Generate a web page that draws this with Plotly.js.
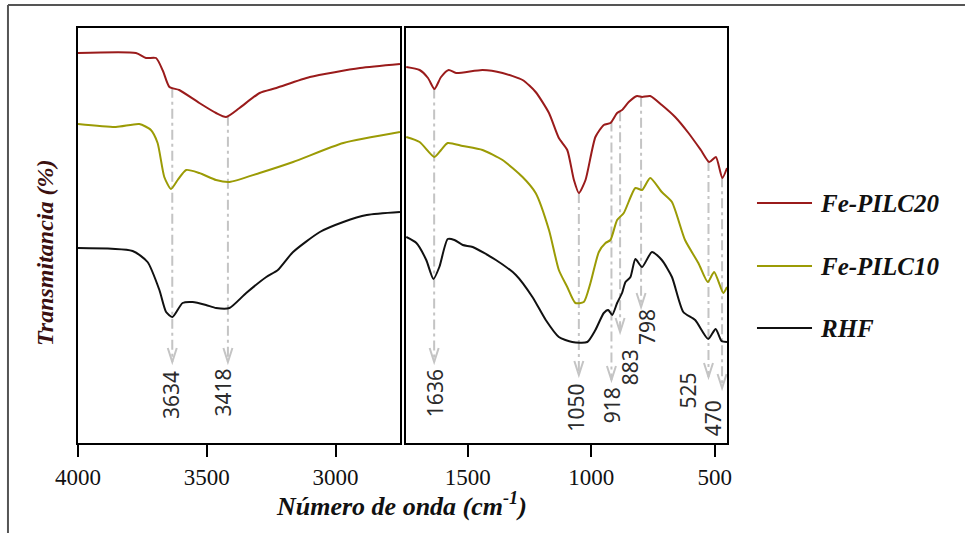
<!DOCTYPE html>
<html>
<head>
<meta charset="utf-8">
<script src="https://cdn.plot.ly/plotly-3.0.1.min.js"></script>
<style>html,body{margin:0;padding:0;background:#fff;}#chart{width:965px;height:533px;}</style>
</head>
<body>
<div id="chart"></div>
<script>
// ---------------- DATA ----------------
const seriesNames = ["Fe-PILC20", "Fe-PILC10", "RHF"];

// high-wavenumber panel (4000 - 2750 cm-1)
const pilc20_hi_wn = [4000,3775,3736,3697,3670,3645,3607,3529,3464,3425,3373,3295,3230,3100,2905,2750];
const pilc20_hi_T  = [390,390,385,385,372,356,353,340,330,326,335,350,355,366,375,379];
const pilc10_hi_wn = [4000,3853,3762,3717,3691,3665,3639,3613,3580,3529,3464,3412,3295,3165,2970,2750];
const pilc10_hi_T  = [319,316,319,313,300,266,254,263,273,270,263,261,270,281,300,311];
const rhf_hi_wn    = [4000,3788,3730,3684,3658,3633,3594,3555,3503,3464,3412,3347,3269,3224,3165,3061,2970,2879,2750];
const rhf_hi_T     = [195,192,181,153,131,126,140,141,138,135,135,150,166,173,191,211,221,228,231];

// low-wavenumber panel (1750 - 450 cm-1)
const pilc20_lo_wn = [1749,1695,1661,1635,1608,1577,1547,1440,1359,1278,1225,1171,1131,1097,1070,1050,1023,983,949,922,895,875,848,814,794,761,714,660,606,556,522,495,469,450];
const pilc20_lo_T  = [376,373,365,354,366,373,370,373,370,363,351,330,305,293,263,250,263,306,318,320,330,333,341,347,346,347,338,326,310,293,281,286,265,275];
const pilc10_lo_wn = [1749,1695,1635,1608,1581,1520,1440,1359,1278,1225,1171,1131,1097,1064,1030,1003,969,942,922,895,868,821,794,761,714,673,620,566,528,502,465,450];
const pilc10_lo_T  = [306,301,286,293,300,297,293,283,266,250,213,173,156,140,141,160,191,200,203,223,230,255,253,265,251,241,203,180,161,171,150,156];
const rhf_lo_wn    = [1749,1708,1668,1639,1615,1581,1554,1520,1480,1386,1305,1238,1184,1131,1077,1016,983,949,931,915,895,875,861,841,821,794,754,714,673,627,579,526,496,472,450];
const rhf_lo_T     = [206,200,183,164,176,204,203,198,196,183,168,146,123,106,101,101,113,130,133,128,140,150,161,166,184,176,191,183,166,131,123,104,114,102,101];

// marked bands (cm-1)
const peakBands  = [3634, 3418, 1636, 1050, 918, 883, 798, 525, 470];
const peakLabels = ["3634", "3418", "1636", "1050", "918", "883", "798", "525", "470"];
const xTickVals_hi = [4000, 3500, 3000];
const xTickVals_lo = [1500, 1000, 500];

// ---------------- LAYOUT CONFIG (positions / styles) ----------------
const colors = ["#9a1b1b", "#9b9b05", "#111111"];
const arrowTipY = [81, 81, 81, 68, 63, 111, 136, 66, 55];
const labelX    = [3639, 3439, 1632, 1063, 915, 842, 774, 606, 506];
const labelY    = [48, 50, 50, 35, 38, 76, 116, 53, 25];
const hiRange = [4000, 2750], loRange = [1750, 450], yRange = [0, 415];
const M = {l: 78, r: 238, t: 28, b: 90};
const plotW = 965 - M.l - M.r, plotH = 533 - M.t - M.b;
const domHi = [0, 0.4961], domLo = [0.5054, 1];
const serif = "Liberation Serif";
const gray = "#c4c4c4";

function interp(xs, ys, x) {
  for (let i = 0; i < xs.length - 1; i++) {
    const a = xs[i], b = xs[i + 1];
    if ((x <= a && x >= b) || (x >= a && x <= b)) {
      const t = (x - a) / (b - a);
      return ys[i] + t * (ys[i + 1] - ys[i]);
    }
  }
  return ys[ys.length - 1];
}

const hiSets = [[pilc20_hi_wn, pilc20_hi_T], [pilc10_hi_wn, pilc10_hi_T], [rhf_hi_wn, rhf_hi_T]];
const loSets = [[pilc20_lo_wn, pilc20_lo_T], [pilc10_lo_wn, pilc10_lo_T], [rhf_lo_wn, rhf_lo_T]];

const traces = [];
seriesNames.forEach((name, i) => {
  traces.push({x: hiSets[i][0], y: hiSets[i][1], xaxis: "x", yaxis: "y", type: "scatter", mode: "lines",
    name: name, showlegend: false, line: {color: colors[i], width: 2, shape: "spline", smoothing: 0.6}, hoverinfo: "skip"});
  traces.push({x: loSets[i][0], y: loSets[i][1], xaxis: "x2", yaxis: "y2", type: "scatter", mode: "lines",
    name: name, showlegend: false, line: {color: colors[i], width: 2, shape: "spline", smoothing: 0.6}, hoverinfo: "skip"});
});

const shapes = [];
const annotations = [];

peakBands.forEach((w, k) => {
  const isHi = w > 2000;
  const xr = isHi ? "x" : "x2", yr = isHi ? "y" : "y2";
  const rng = isHi ? hiRange : loRange, dom = isHi ? domHi : domLo;
  const ppu = (dom[1] - dom[0]) * plotW / Math.abs(rng[0] - rng[1]);
  const topSet = isHi ? hiSets[0] : loSets[0];
  const yTop = interp(topSet[0], topSet[1], w);
  const yTip = arrowTipY[k];
  const dx = 4.5 / ppu, h = 14 * (yRange[1] - yRange[0]) / plotH;
  shapes.push({type: "line", xref: xr, yref: yr, x0: w, x1: w, y0: yTop, y1: yTip,
    line: {color: gray, width: 2, dash: "10px,4px,3px,4px"}, layer: "below"});
  shapes.push({type: "path", xref: xr, yref: yr,
    path: `M ${w - dx} ${yTip + h} L ${w} ${yTip} L ${w + dx} ${yTip + h}`,
    line: {color: gray, width: 2}});
  annotations.push({xref: xr, yref: yr, x: labelX[k], y: labelY[k], text: peakLabels[k], showarrow: false,
    textangle: -90, xanchor: "center", yanchor: "middle",
    font: {family: "Noto Sans", size: 21, color: "#2b2b2b"}});
});

// legend (drawn by hand to match the reference spacing)
const legY = [0.5783, 0.4265, 0.2771];
seriesNames.forEach((name, i) => {
  shapes.push({type: "line", xref: "paper", yref: "paper", x0: 1.0462, x1: 1.131, y0: legY[i], y1: legY[i],
    line: {color: colors[i], width: 2}});
  annotations.push({xref: "paper", yref: "paper", x: 1.1402, y: legY[i], text: name, showarrow: false,
    xanchor: "left", yanchor: "middle",
    font: {family: serif, size: 25, color: "#111", weight: "bold", style: "italic"}});
});

// axis titles
annotations.push({xref: "paper", yref: "paper", x: 0.4977, y: -0.149, text: "Número de onda (cm<sup>-1</sup>)",
  showarrow: false, xanchor: "center", yanchor: "middle",
  font: {family: serif, size: 26, color: "#111", weight: "bold", style: "italic"}});
annotations.push({xref: "paper", yref: "paper", x: -0.0508, y: 0.458, text: "Transmitancia (%)",
  showarrow: false, textangle: -90, xanchor: "center", yanchor: "middle",
  font: {family: serif, size: 24, color: "#3b1010", weight: "bold", style: "italic"}});

// outer frame (top and left edges visible in the reference)
shapes.push({type: "line", xref: "paper", yref: "paper", x0: -0.1079, x1: 1.3667, y0: 1.0554, y1: 1.0554,
  line: {color: "#555", width: 2}});
shapes.push({type: "line", xref: "paper", yref: "paper", x0: -0.1079, x1: -0.1079, y0: -0.3, y1: 1.0554,
  line: {color: "#555", width: 2}});

const xCommon = {showline: true, mirror: true, linewidth: 2, linecolor: "#000", showgrid: false, zeroline: false,
  ticks: "outside", ticklen: 12, tickwidth: 2, tickcolor: "#000"};
const yCommon = {showline: true, mirror: true, linewidth: 2, linecolor: "#000", showgrid: false, zeroline: false,
  ticks: "", showticklabels: false, range: yRange, fixedrange: true};

const layout = {
  width: 965, height: 533,
  margin: M,
  font: {family: serif, size: 23, color: "#111"},
  paper_bgcolor: "#fff", plot_bgcolor: "#fff",
  showlegend: false,
  xaxis: Object.assign({}, xCommon, {domain: domHi, range: hiRange, tickvals: xTickVals_hi, anchor: "y",
    tickfont: {family: serif, size: 23, color: "#111"}}),
  yaxis: Object.assign({}, yCommon, {anchor: "x"}),
  xaxis2: Object.assign({}, xCommon, {domain: domLo, range: loRange, tickvals: xTickVals_lo, anchor: "y2",
    tickfont: {family: serif, size: 23, color: "#111"}}),
  yaxis2: Object.assign({}, yCommon, {anchor: "x2"}),
  shapes: shapes,
  annotations: annotations
};

Plotly.newPlot("chart", traces, layout, {staticPlot: true, displayModeBar: false});
</script>
</body>
</html>
